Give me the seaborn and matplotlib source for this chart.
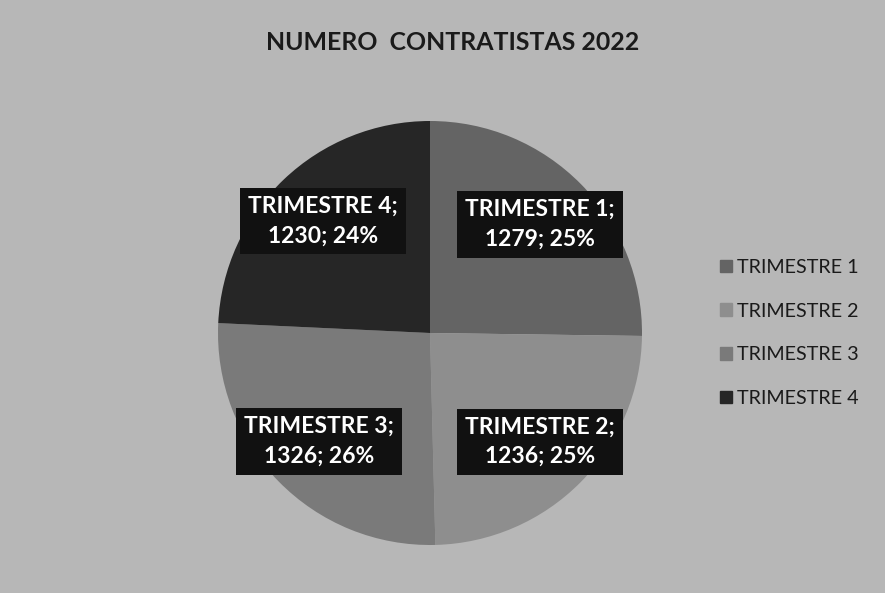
import numpy as np
import matplotlib
matplotlib.use("Agg")
import matplotlib.pyplot as plt
import seaborn as sns

categories = ["TRIMESTRE 1", "TRIMESTRE 2", "TRIMESTRE 3", "TRIMESTRE 4"]
values = [1279, 1236, 1326, 1230]
percents = [25, 25, 26, 24]
title = "NUMERO  CONTRATISTAS 2022"

sns.set_theme(style="white")
plt.rcParams['font.family'] = ['Lato', 'DejaVu Sans']

colors = ["#646464", "#8e8e8e", "#7a7a7a", "#262626"]
bg = "#b7b7b7"

W, H = 885, 593
fig = plt.figure(figsize=(W / 100, H / 100), dpi=100, facecolor=bg)
cx, cy, r = 430, 333, 212
ax = fig.add_axes([(cx - r) / W, (H - cy - r) / H, 2 * r / W, 2 * r / H])
ax.set_facecolor(bg)

wedges, _ = ax.pie(values, colors=colors, startangle=90, counterclock=False,
                   radius=1, wedgeprops=dict(linewidth=0))
ax.set_xlim(-1, 1)
ax.set_ylim(-1, 1)
ax.set_aspect("equal")
ax.axis("off")

for w, cat, v, p in zip(wedges, categories, values, percents):
    ang = np.deg2rad((w.theta1 + w.theta2) / 2)
    x, y = 0.73 * np.cos(ang), 0.73 * np.sin(ang)
    ax.text(x, y, f"{cat};\n{v}; {p}%", ha="center", va="center",
            color="white", fontsize=16.5, fontweight="bold", linespacing=1.5,
            bbox=dict(boxstyle="square,pad=0.35", facecolor="#111111", edgecolor="none"))

fig.text(453 / W, 1 - 42 / H, title, ha="center", va="center", fontsize=17.9,
         fontweight="bold", color="#1a1a1a")

handles = [plt.Rectangle((0, 0), 1, 1, color=c) for c in colors]
fig.legend(handles, categories, loc="center left", bbox_to_anchor=(702 / W, 1 - 333 / H),
           frameon=False, fontsize=14.2, handlelength=0.6, handleheight=0.6,
           handletextpad=0.25, labelspacing=1.35, labelcolor="#1a1a1a")

fig.savefig("out.png", dpi=100, facecolor=bg)
